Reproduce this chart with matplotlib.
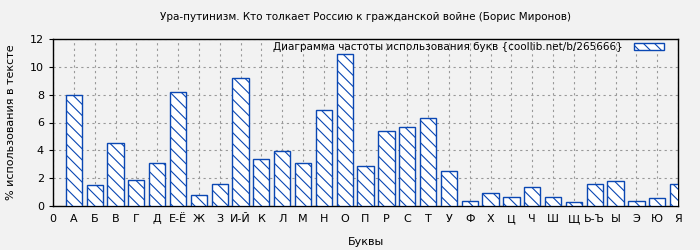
"""Letter frequency bar chart (coollib style)."""

import matplotlib

matplotlib.use("Agg")
import matplotlib.pyplot as plt
import numpy as np

TITLE = "Ура-путинизм. Кто толкает Россию к гражданской войне (Борис Миронов)"
LEGEND_LABEL = "Диаграмма частоты использования букв {coollib.net/b/265666}"

tick_labels = ["0", "А", "Б", "В", "Г", "Д", "Е-Ё", "Ж", "З", "И-Й", "К", "Л", "М",
               "Н", "О", "П", "Р", "С", "Т", "У", "Ф", "Х", "Ц", "Ч", "Ш", "Щ",
               "Ь-Ъ", "Ы", "Э", "Ю", "Я"]
letters = tick_labels[1:]
percent = [8.0, 1.5, 4.5, 1.85, 3.07, 8.18, 0.77, 1.56, 9.19, 3.36, 3.94, 3.07,
           6.89, 10.92, 2.86, 5.38, 5.66, 6.31, 2.5, 0.34, 0.91, 0.65, 1.37, 0.65,
           0.29, 1.56, 1.8, 0.34, 0.55, 1.56]

BLUE = "#0a47b3"
BG = "#f2f2f2"

plt.rcParams.update({
    "font.family": "DejaVu Sans",
    "font.size": 8,
    "hatch.linewidth": 0.8,
})

fig = plt.figure(figsize=(7.0, 2.5), dpi=100, facecolor=BG)
ax = fig.add_axes([0.0757, 0.176, 0.893, 0.668], facecolor=BG)

pos = np.arange(1, len(letters) + 1)
ax.bar(pos, percent, width=0.78, facecolor="white", edgecolor=BLUE,
       linewidth=1.0, hatch="\\\\\\", label=LEGEND_LABEL, zorder=3)

ax.set_xlim(0, len(letters))
ax.set_ylim(0, 12)
ax.set_xticks(np.arange(len(tick_labels)))
ax.set_xticklabels(tick_labels)
ax.set_yticks(np.arange(0, 13, 2))
ax.tick_params(axis="x", length=0, pad=6)
ax.tick_params(axis="y", length=3, direction="out")
ax.grid(True, color="#999999", linestyle=(0, (2, 3)), linewidth=0.8, zorder=0)

for side in ax.spines.values():
    side.set_color("black")
    side.set_linewidth(1.0)

ax.set_title(TITLE, fontsize=7.5, pad=14)
ax.set_xlabel("Буквы", labelpad=9)
ax.set_ylabel("% использования в тексте", labelpad=10)

ax.legend(loc="upper right", bbox_to_anchor=(0.9824, 1.0), frameon=False,
          markerfirst=False, handlelength=2.9, handleheight=0.55,
          borderaxespad=0.0, borderpad=0.3, handletextpad=1.05, fontsize=7.5)

fig.savefig("out.png", dpi=100, facecolor=BG)
